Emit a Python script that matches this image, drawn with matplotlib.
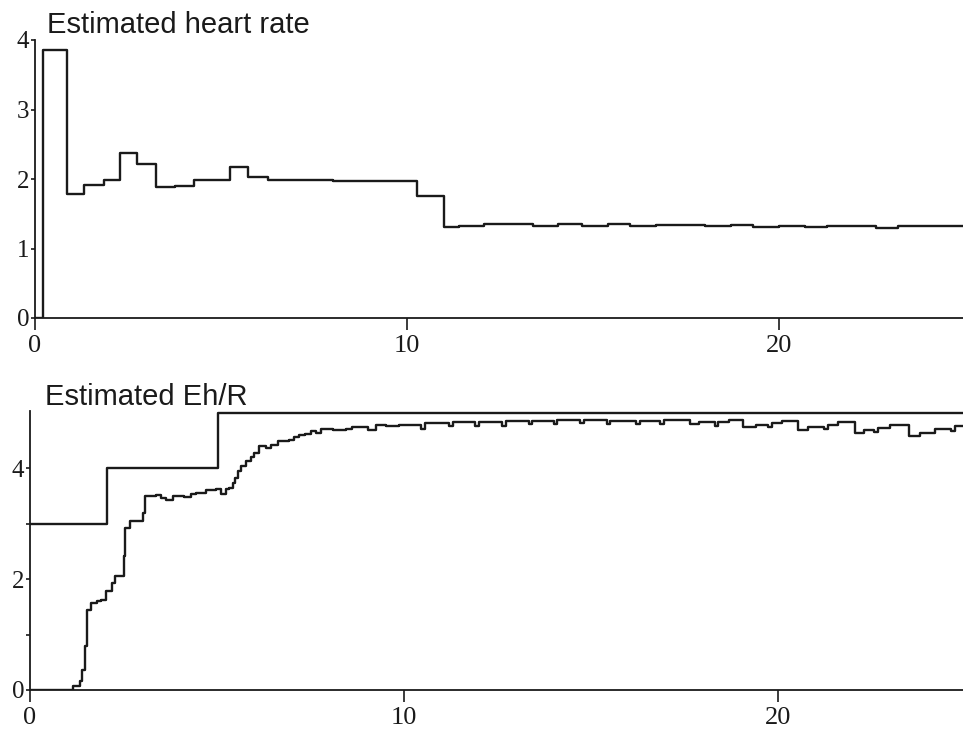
import matplotlib
matplotlib.use("Agg")
import matplotlib.pyplot as plt

# estimated heart rate (step values, value holds until next x)
hr_x = [0, 0.22, 0.85, 1.33, 1.85, 2.28, 2.73, 3.24, 3.76, 4.27, 5.24, 5.73, 6.26,
        8.0, 10.26, 11.0, 11.4, 12.07, 13.4, 14.05, 14.7, 15.4, 16.0, 16.7, 18.0,
        18.7, 19.3, 20.0, 20.7, 21.3, 22.6, 23.2, 25.0]
hr_y = [0, 3.85, 1.79, 1.92, 1.99, 2.37, 2.22, 1.88, 1.90, 1.98, 2.17, 2.03, 1.98,
        1.97, 1.75, 1.31, 1.33, 1.35, 1.33, 1.35, 1.33, 1.35, 1.32, 1.34, 1.32,
        1.34, 1.31, 1.33, 1.31, 1.33, 1.30, 1.32, 1.32]

# true Eh/R (upper step line)
true_x = [0, 2.06, 5.04, 25.0]
true_y = [3.0, 4.0, 5.0, 5.0]

# estimated Eh/R
est_x = [0, 1.16, 1.35, 1.40, 1.47, 1.53, 1.64, 1.78, 1.91, 2.04, 2.18, 2.27, 2.51,
         2.55, 2.67, 3.02, 3.08, 3.38, 3.50, 3.64, 3.82, 4.13, 4.30, 4.44, 4.71,
         4.98, 5.11, 5.24, 5.33, 5.42, 5.47, 5.56, 5.64, 5.78, 5.90, 6.0, 6.13,
         6.30, 6.44, 6.62, 6.93, 7.05, 7.2, 7.35, 7.51, 7.65, 7.78, 8.09, 8.44,
         8.6, 8.89, 9.05, 9.24, 9.51, 9.87, 10.45, 10.55, 11.2, 11.3, 11.9, 12.0,
         12.62, 12.72, 13.33, 13.43, 14.0, 14.1, 14.7, 14.8, 15.42, 15.52, 16.2,
         16.3, 16.85, 16.95, 17.05, 17.64, 17.9, 18.31, 18.4, 18.7, 19.07, 19.4,
         19.73, 19.83, 20.1, 20.53, 20.8, 21.24, 21.34, 21.6, 22.05, 22.3, 22.58,
         22.68, 23.0, 23.5, 23.8, 24.2, 24.62, 24.72, 25.0]
est_y = [0, 0.07, 0.16, 0.37, 0.8, 1.45, 1.57, 1.60, 1.63, 1.78, 1.93, 2.06, 2.41,
         2.92, 3.05, 3.19, 3.51, 3.52, 3.46, 3.43, 3.50, 3.49, 3.53, 3.56, 3.61,
         3.63, 3.53, 3.63, 3.65, 3.74, 3.83, 3.95, 4.04, 4.13, 4.20, 4.28, 4.40,
         4.37, 4.43, 4.49, 4.52, 4.56, 4.60, 4.62, 4.67, 4.63, 4.71, 4.69, 4.72,
         4.74, 4.74, 4.69, 4.78, 4.76, 4.79, 4.72, 4.82, 4.76, 4.83, 4.77, 4.84,
         4.77, 4.85, 4.80, 4.86, 4.81, 4.87, 4.82, 4.87, 4.81, 4.86, 4.80, 4.86,
         4.80, 4.88, 4.88, 4.80, 4.83, 4.76, 4.84, 4.87, 4.74, 4.79, 4.75, 4.82,
         4.86, 4.70, 4.75, 4.71, 4.79, 4.83, 4.64, 4.69, 4.65, 4.73, 4.79, 4.58,
         4.64, 4.72, 4.68, 4.77, 4.77]

ink = "#1a1a1a"
serif = "Liberation Serif"
sans = "Liberation Sans"

fig = plt.figure(figsize=(9.63, 7.37), dpi=100)
ax1 = fig.add_axes([35 / 963, 1 - 318 / 737, 930 / 963, 278 / 737])
ax2 = fig.add_axes([30 / 963, 1 - 690 / 737, 935 / 963, 5.03 * 55.4 / 737])

ax1.step(hr_x, hr_y, where="post", color=ink, lw=1.7)
ax2.step(true_x, true_y, where="post", color=ink, lw=1.7)
ax2.step(est_x, est_y, where="post", color=ink, lw=1.7)

ax1.set_xlim(0, 25)
ax1.set_ylim(0, 4)
ax1.set_yticks([0, 1, 2, 3, 4])
ax2.set_xlim(0, 25)
ax2.set_ylim(0, 5.03)
ax2.set_yticks([0, 1, 2, 3, 4])
ax2.set_yticklabels(["0", "", "2", "", "4"])

for ax in (ax1, ax2):
    ax.set_xticks([0, 10, 20])
    ax.spines["top"].set_visible(False)
    ax.spines["right"].set_visible(False)
    ax.spines["left"].set_linewidth(1.3)
    ax.spines["bottom"].set_linewidth(1.3)
    ax.spines["left"].set_color(ink)
    ax.spines["bottom"].set_color(ink)
    ax.tick_params(axis="x", direction="out", length=8.5, width=1.2, pad=4,
                   labelsize=19, colors=ink)
    ax.tick_params(axis="y", direction="out", length=3, width=1.2, pad=1,
                   labelsize=18, colors=ink)
    for lab in ax.get_xticklabels() + ax.get_yticklabels():
        lab.set_fontfamily(serif)
    ax.patch.set_alpha(0)

fig.text(47 / 963, 1 - 33 / 737, "Estimated heart rate", family=sans,
         fontsize=21, color=ink, va="baseline", ha="left")
fig.text(45 / 963, 1 - 405 / 737, "Estimated Eh/R", family=sans,
         fontsize=21, color=ink, va="baseline", ha="left")

fig.savefig("out.png", dpi=100)
